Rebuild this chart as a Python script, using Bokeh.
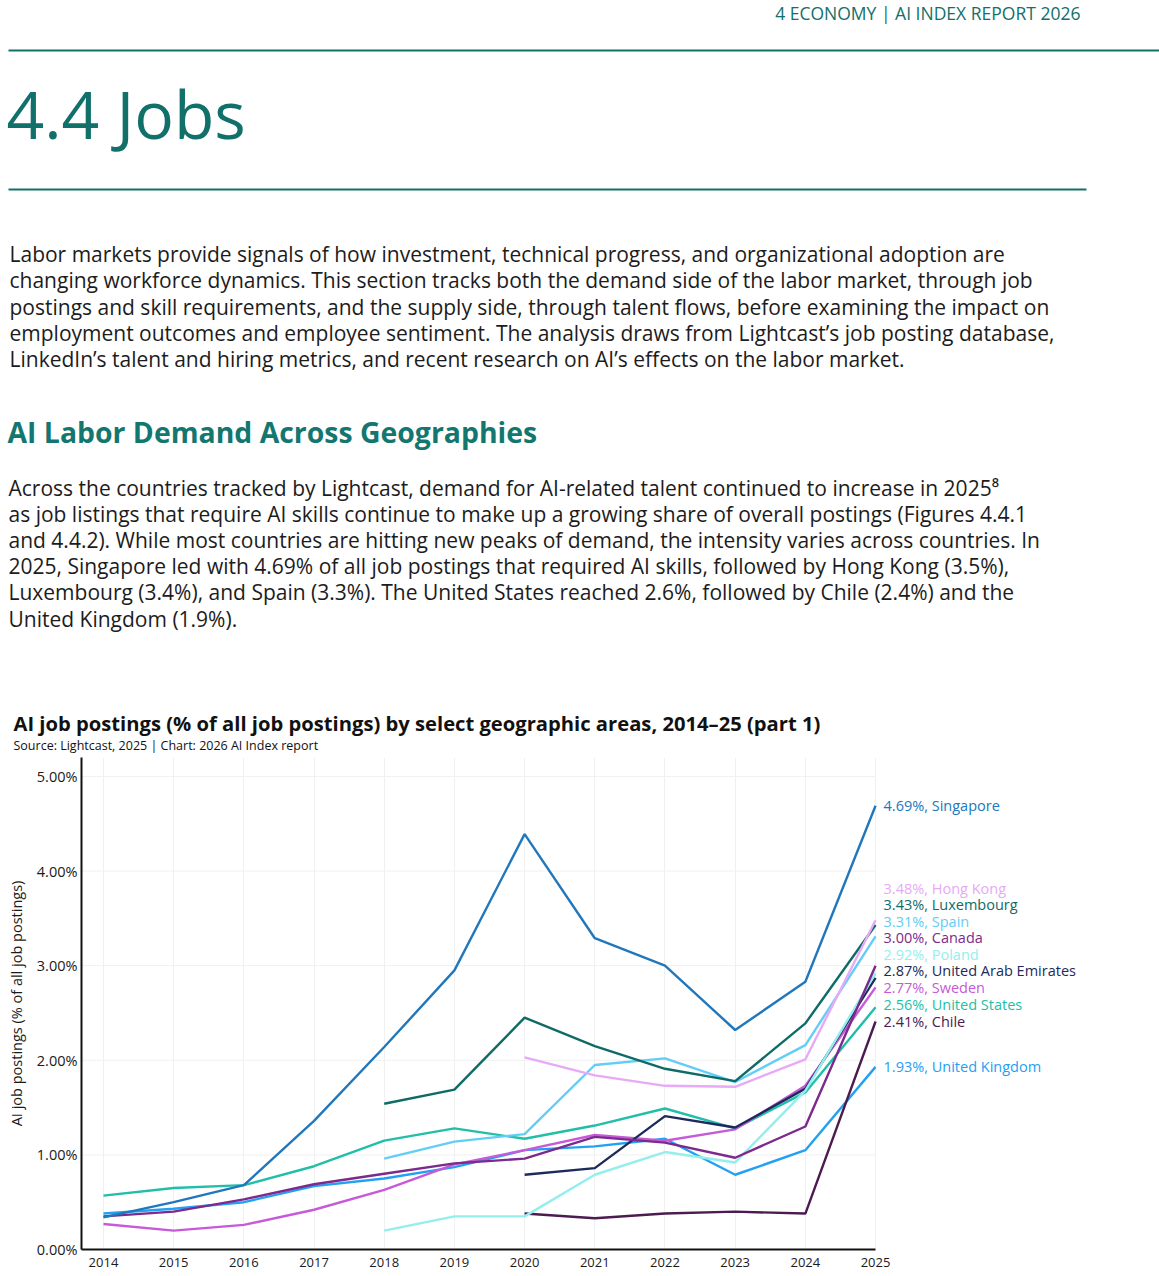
from bokeh.plotting import figure
from bokeh.models import Range1d, FixedTicker, PrintfTickFormatter, ColumnDataSource
from bokeh.embed import file_html
from bokeh.resources import INLINE
from bokeh.core.properties import value

# ---------------- data ----------------
years = [2014, 2015, 2016, 2017, 2018, 2019, 2020, 2021, 2022, 2023, 2024, 2025]

singapore = [0.34, 0.50, 0.68, 1.36, 2.14, 2.95, 4.39, 3.29, 3.00, 2.32, 2.83, 4.69]
hong_kong = [None, None, None, None, None, None, 2.03, 1.84, 1.73, 1.72, 2.01, 3.48]
luxembourg = [None, None, None, None, 1.54, 1.69, 2.45, 2.15, 1.91, 1.78, 2.39, 3.43]
spain = [None, None, None, None, 0.96, 1.14, 1.22, 1.95, 2.02, 1.77, 2.16, 3.31]
canada = [0.35, 0.40, 0.53, 0.69, 0.80, 0.91, 0.96, 1.19, 1.13, 0.97, 1.30, 3.00]
poland = [None, None, None, None, 0.20, 0.35, 0.35, 0.79, 1.03, 0.92, 1.68, 2.92]
uae = [None, None, None, None, None, None, 0.79, 0.86, 1.41, 1.29, 1.70, 2.87]
sweden = [0.27, 0.20, 0.26, 0.42, 0.63, 0.90, 1.05, 1.21, 1.15, 1.27, 1.73, 2.77]
united_states = [0.57, 0.65, 0.68, 0.88, 1.15, 1.28, 1.17, 1.31, 1.49, 1.28, 1.66, 2.56]
chile = [None, None, None, None, None, None, 0.38, 0.33, 0.38, 0.40, 0.38, 2.41]
united_kingdom = [0.38, 0.43, 0.50, 0.67, 0.75, 0.87, 1.05, 1.09, 1.17, 0.79, 1.05, 1.93]

names = ["Singapore", "Hong Kong", "Luxembourg", "Spain", "Canada", "Poland",
         "United Arab Emirates", "Sweden", "United States", "Chile", "United Kingdom"]
series = [singapore, hong_kong, luxembourg, spain, canada, poland,
          uae, sweden, united_states, chile, united_kingdom]
colors = ["#2177bb", "#e8a9f7", "#0e6b66", "#62cdf6", "#7c2a8b", "#94eeee",
          "#1c2b5c", "#c65ad8", "#21bfa9", "#4c1b4f", "#22a1f4"]

y_ticks = [0, 1, 2, 3, 4, 5]

# ---------------- styles / layout ----------------
FONT = "Open Sans"
TEAL = "#12706b"
TXT = "#1c1c1c"
W = 1159
HDR_H = 757
CH_H = 519
X0 = 2013.687          # left edge of the chart frame (years)
PX_PER_YEAR = 70.19
FRAME_LEFT = 81
BASE_SHIFT = 0.42      # empirical correction so that y is the visual baseline

# ---------------- header figure (page pixel coordinates) ----------------
hdr = figure(width=W, height=HDR_H, x_range=Range1d(0, W), y_range=Range1d(HDR_H, 0),
             output_backend="svg", toolbar_location=None, x_axis_type=None, y_axis_type=None,
             min_border=0)
hdr.grid.visible = False
hdr.outline_line_color = None


def txt(fig, x, baseline, s, size, color=TXT, style="normal", align="left"):
    fig.text(x=[x], y=[baseline - BASE_SHIFT * size], text=[s], text_font=value(FONT),
             text_font_size=f"{size}px", text_color=color, text_font_style=style,
             text_align=align, text_baseline="alphabetic")


txt(hdr, 1089, 19.5, "4 ECONOMY  |  AI INDEX REPORT 2026", 17.5, TEAL, align="right")
hdr.segment(x0=[8], y0=[50], x1=[W], y1=[50], line_color=TEAL, line_width=2)
txt(hdr, 6, 140, "4.4 Jobs", 66, TEAL)
hdr.segment(x0=[8], y0=[189], x1=[1086], y1=[189], line_color=TEAL, line_width=2)

para1 = [
    "Labor markets provide signals of how investment, technical progress, and organizational adoption are",
    "changing workforce dynamics. This section tracks both the demand side of the labor market, through job",
    "postings and skill requirements, and the supply side, through talent flows, before examining the impact on",
    "employment outcomes and employee sentiment. The analysis draws from Lightcast\u2019s job posting database,",
    "LinkedIn\u2019s talent and hiring metrics, and recent research on AI\u2019s effects on the labor market.",
]
for i, line in enumerate(para1):
    txt(hdr, 9, 262.5 + i * 26.3, line, 21)

txt(hdr, 7, 443.5, "AI Labor Demand Across Geographies", 28.4, "#137770", style="bold")

para2 = [
    "Across the countries tracked by Lightcast, demand for AI-related talent continued to increase in 2025\u2078",
    "as job listings that require AI skills continue to make up a growing share of overall postings (Figures 4.4.1",
    "and 4.4.2). While most countries are hitting new peaks of demand, the intensity varies across countries. In",
    "2025, Singapore led with 4.69% of all job postings that required AI skills, followed by Hong Kong (3.5%),",
    "Luxembourg (3.4%), and Spain (3.3%). The United States reached 2.6%, followed by Chile (2.4%) and the",
    "United Kingdom (1.9%).",
]
for i, line in enumerate(para2):
    txt(hdr, 8, 496 + i * 26.2, line, 21)

txt(hdr, 13, 730.5, "AI job postings (% of all job postings) by select geographic areas, 2014\u201325 (part 1)",
    20.2, "#111111", style="bold")
txt(hdr, 13, 750.5, "Source: Lightcast, 2025 | Chart: 2026 AI Index report", 12.5, "#111111")

# ---------------- chart figure ----------------
x_end = X0 + (W - FRAME_LEFT) / PX_PER_YEAR
p = figure(width=W, height=CH_H, x_range=Range1d(X0, x_end), y_range=Range1d(0, 5.2),
           output_backend="svg", toolbar_location=None,
           min_border_left=FRAME_LEFT, min_border_right=0, min_border_top=0, min_border_bottom=27)
p.outline_line_color = None
p.background_fill_color = "white"
p.border_fill_color = "white"

p.xaxis.ticker = FixedTicker(ticks=years)
p.xaxis.bounds = (X0, years[-1])
p.yaxis.ticker = FixedTicker(ticks=y_ticks)
p.yaxis.formatter = PrintfTickFormatter(format="%.2f%%")
p.xgrid.ticker = FixedTicker(ticks=years)
p.xgrid.grid_line_color = "#f0f0f0"
p.ygrid.visible = False
# horizontal gridlines limited to the data area (labels sit to the right)
p.segment(x0=[X0] * len(y_ticks), y0=y_ticks, x1=[years[-1]] * len(y_ticks), y1=y_ticks,
          line_color="#f0f0f0", line_width=1)

for ax in (p.xaxis, p.yaxis):
    ax.axis_line_color = "#111111"
    ax.axis_line_width = 2
    ax.major_tick_line_color = None
    ax.minor_tick_line_color = None
    ax.major_tick_out = 0
    ax.major_tick_in = 0
    ax.major_label_text_font = FONT
    ax.major_label_text_color = "#1a1a1a"
p.xaxis.major_label_text_font_size = "13px"
p.yaxis.major_label_text_font_size = "14.5px"
p.xaxis.major_label_standoff = 8
p.yaxis.major_label_standoff = 4
p.yaxis.axis_label = "AI job postings (% of all job postings)"
p.yaxis.axis_label_text_font = FONT
p.yaxis.axis_label_text_font_size = "14.5px"
p.yaxis.axis_label_text_font_style = "normal"
p.yaxis.axis_label_text_color = "#1a1a1a"
p.yaxis.axis_label_standoff = 8

for name, vals, col in reversed(list(zip(names, series, colors))):
    xs = [x for x, v in zip(years, vals) if v is not None]
    ys = [v for v in vals if v is not None]
    p.line(xs, ys, line_color=col, line_width=2.4)

# end labels, dodged bottom-up so they don't overlap
LABEL_GAP = 0.175
final = {n: s[-1] for n, s in zip(names, series)}
label_pos = {}
prev = None
for n in sorted(names, key=lambda k: final[k]):
    y = final[n] if prev is None else max(final[n], prev + LABEL_GAP)
    label_pos[n] = y
    prev = y

lab_src = ColumnDataSource(dict(
    x=[years[-1]] * len(names),
    y=[label_pos[n] for n in names],
    text=[f"{final[n]:.2f}%, {n}" for n in names],
    color=colors,
))
p.text(x="x", y="y", text="text", source=lab_src, x_offset=8, text_color="color",
       text_font=value(FONT), text_font_size="14.5px", text_baseline="middle", text_align="left")

open("out.html", "w").write(file_html([hdr, p], INLINE))
